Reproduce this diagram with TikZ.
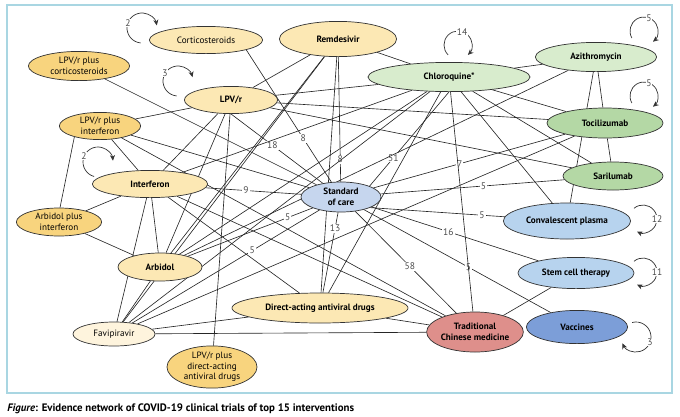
\documentclass[tikz,border=0pt]{standalone}
\usepackage{fontspec}
\setmainfont{PT Sans}
\usetikzlibrary{shapes.geometric, arrows.meta}
\pgfdeclarelayer{background}
\pgfsetlayers{background,main}

\definecolor{yelA}{HTML}{FCE8B4}
\definecolor{yelB}{HTML}{F8D47E}
\definecolor{yelC}{HTML}{FEF4DD}
\definecolor{grnA}{HTML}{D8ECCD}
\definecolor{grnB}{HTML}{B4D8A5}
\definecolor{bluA}{HTML}{C6D6EE}
\definecolor{bluB}{HTML}{B7D3EE}
\definecolor{bluC}{HTML}{7C9ED8}
\definecolor{redA}{HTML}{DE8F8B}
\definecolor{framecol}{HTML}{A9D6E2}

\begin{document}
\begin{tikzpicture}[
    x=0.025cm, y=-0.025cm,
    font=\fontsize{6.5}{7.5}\selectfont,
    >={Stealth[length=4pt, width=3.6pt]},
    % node looks
    trial/.style={ellipse, draw=black!80, line width=0.5pt, inner sep=0pt, align=center},
    drugbold/.style={trial, font=\fontsize{6.5}{7.5}\selectfont\bfseries},
    drugplain/.style={trial, font=\fontsize{6.5}{7.6}\selectfont},
    % connectors and counts
    link/.style={black!85, line width=0.45pt},
    count/.style={fill=white, inner sep=0.8pt, font=\fontsize{6.8}{7}\selectfont, text=black!70},
    selfloop/.style={black!80, line width=0.5pt, ->},
    loopnum/.style={fill=white, inner sep=0.5pt, font=\fontsize{6.8}{7}\selectfont, text=black!70}
]
\useasboundingbox (0,0) rectangle (680,416);

% --- frame and caption ---
\draw[framecol, line width=1pt] (7,5) rectangle (672,393);
\node[anchor=base west, inner sep=0pt, font=\fontsize{7.7}{9}\selectfont\bfseries] (caption) at (7,411)
    {\textit{Figure}: Evidence network of COVID-19 clinical trials of top 15 interventions};

% --- interventions ---
\node[drugplain, fill=yelA, minimum width=2.83cm, minimum height=0.68cm] (cort) at (206,40) {Corticosteroids};
\node[drugbold, fill=yelA, minimum width=2.93cm, minimum height=0.88cm] (remd) at (338,39) {Remdesivir};
\node[drugbold, fill=grnA, minimum width=4.05cm, minimum height=0.73cm] (chlq) at (449,77) {Chloroquine*};
\node[drugbold, fill=grnA, minimum width=3.03cm, minimum height=0.73cm] (azit) at (596,57) {Azithromycin};
\node[drugbold, fill=grnB, minimum width=2.90cm, minimum height=0.75cm] (toci) at (605,123) {Tocilizumab};
\node[drugbold, fill=grnB, minimum width=2.50cm, minimum height=0.70cm] (sari) at (613,176) {Sarilumab};
\node[drugbold, fill=bluB, minimum width=3.18cm, minimum height=0.90cm] (conv) at (567,221) {Convalescent plasma};
\node[drugbold, fill=bluB, minimum width=2.90cm, minimum height=0.78cm] (stem) at (576,273) {Stem cell therapy};
\node[drugbold, fill=bluC, minimum width=2.53cm, minimum height=0.83cm] (vacc) at (577,327) {Vaccines};
\node[drugbold, fill=redA, minimum width=2.13cm, minimum height=1.00cm] (tcm) at (475,332) {Traditional\\Chinese medicine};
\node[drugbold, fill=yelA, minimum width=4.40cm, minimum height=0.75cm] (daa) at (320,308) {Direct-acting antiviral drugs};
\node[drugplain, fill=yelB, minimum width=2.25cm, minimum height=0.95cm] (lpvdaa) at (212,367) {LPV/r plus\\direct-acting\\antiviral drugs};
\node[drugplain, fill=yelC, minimum width=2.05cm, minimum height=0.60cm] (favi) at (114,334) {Favipiravir};
\node[drugbold, fill=yelA, minimum width=2.10cm, minimum height=0.70cm] (arbi) at (160,267) {Arbidol};
\node[drugplain, fill=yelB, minimum width=2.13cm, minimum height=0.70cm] (arbifn) at (59,222) {Arbidol plus\\interferon};
\node[drugbold, fill=yelA, minimum width=2.88cm, minimum height=0.68cm] (ifn) at (150,184) {Interferon};
\node[drugplain, fill=yelB, minimum width=2.03cm, minimum height=0.68cm] (lpvifn) at (100,126) {LPV/r plus\\interferon};
\node[drugbold, fill=yelA, minimum width=2.33cm, minimum height=0.68cm] (lpvr) at (231,100) {LPV/r};
\node[drugplain, fill=yelB, minimum width=2.53cm, minimum height=0.73cm] (lpvcort) at (79,66) {LPV/r plus\\corticosteroids};
\node[drugbold, fill=bluA, minimum width=2.00cm, minimum height=0.75cm] (soc) at (341,197) {Standard\\of care};

% --- self loops ---
\draw[selfloop] (142,28) ++(95:15) arc[start angle=95, end angle=350, radius=15];
\node[loopnum] (lcort) at (128,23) {2};
\draw[selfloop] (178,81) ++(95:15) arc[start angle=95, end angle=345, radius=15];
\node[loopnum] (llpvr) at (165,73) {3};
\draw[selfloop] (98,162) ++(105:15) arc[start angle=105, end angle=355, radius=15];
\node[loopnum] (lifn) at (84,156) {2};
\draw[selfloop] (458,45) ++(135:14) arc[start angle=135, end angle=405, radius=14];
\node[loopnum] (lchlq) at (462,32) {14};
\draw[selfloop] (644,31) ++(150:14) arc[start angle=150, end angle=410, radius=14];
\node[loopnum] (lazit) at (649,18) {5};
\draw[selfloop] (644,96) ++(150:14) arc[start angle=150, end angle=410, radius=14];
\node[loopnum] (ltoci) at (649,83) {5};
\draw[selfloop] (643,219) ++(230:14) arc[start angle=230, end angle=475, radius=14];
\node[loopnum] (lconv) at (657,219) {12};
\draw[selfloop] (643,272) ++(230:14) arc[start angle=230, end angle=475, radius=14];
\node[loopnum] (lstem) at (657,272) {11};
\draw[selfloop] (636,337) ++(255:15) arc[start angle=255, end angle=515, radius=15];
\node[loopnum] (lvacc) at (650,342) {3};

% --- comparisons ---
\begin{pgfonlayer}{background}
% with standard of care
\draw[link] (cort.south east) -- (soc) node[count, pos=0.67] {8};
\draw[link] (lpvr.south) -- (soc) node[count, pos=0.45] {18};
\draw[link] (remd) -- (soc) node[count, pos=0.82] {8};
\draw[link] (chlq.south) -- (soc.north east) node[count, pos=0.7] {51};
\draw[link] (toci) -- (soc) node[count, pos=0.55] {7};
\draw[link] (sari) -- (soc) node[count, pos=0.44] {5};
\draw[link] (conv) -- (soc.-20) node[count, pos=0.17] {5};
\draw[link] (stem) -- (soc) node[count, pos=0.54] {16};
\draw[link] (vacc) -- (soc) node[count, pos=0.44] {5};
\draw[link] (tcm) -- (soc) node[count, pos=0.46] {58};
\draw[link] (daa) -- (soc) node[count, pos=0.8] {13};
\draw[link] (favi) -- (soc) node[count, pos=0.64] {5};
\draw[link] (arbi) -- (soc) node[count, pos=0.8] {5};
\draw[link] (ifn) -- (soc) node[count, pos=0.42] {9};
\draw[link] (lpvcort) -- (soc);
\draw[link] (lpvifn) -- (soc);
% between active treatments
\draw[link] (lpvifn) -- (tcm);
\draw[link] (lpvifn) -- (lpvr);
\draw[link] (lpvifn.203) -- (arbifn.86);
\draw[link] (lpvifn) -- (ifn);
\draw[link] (arbifn) -- (ifn);
\draw[link] (arbifn) -- (arbi);
\draw[link] (ifn) -- (arbi);
\draw[link] (ifn) -- (lpvr);
\draw[link] (ifn) -- (daa);
\draw[link] (ifn) -- (tcm);
\draw[link] (ifn) -- (chlq);
\draw[link] (ifn) -- (favi);
\draw[link] (remd) -- (lpvr);
\draw[link] (remd) -- (daa);
\draw[link] (remd) -- (chlq);
\draw[link] (remd) -- (favi);
\draw[link] (remd) -- (arbi);
\draw[link] (lpvr) -- (arbi);
\draw[link] (lpvr) -- (lpvdaa);
\draw[link] (lpvr) -- (chlq);
\draw[link] (lpvr) -- (toci);
\draw[link] (lpvr) -- (sari);
\draw[link] (arbi) -- (favi);
\draw[link] (arbi) -- (chlq);
\draw[link] (arbi) -- (azit);
\draw[link] (favi) -- (daa);
\draw[link] (favi) -- (tcm);
\draw[link] (favi) -- (chlq);
\draw[link] (favi) -- (toci);
\draw[link] (chlq) -- (azit);
\draw[link] (chlq) -- (toci);
\draw[link] (chlq) -- (sari);
\draw[link] (chlq) -- (conv);
\draw[link] (chlq) -- (tcm);
\draw[link] (chlq) -- (daa);
\draw[link] (azit) -- (toci);
\draw[link] (azit) -- (conv);
\draw[link] (toci) -- (sari);
\draw[link] (stem) -- (tcm);
\draw[link] (tcm) -- (daa);
\end{pgfonlayer}

\end{tikzpicture}
\end{document}
